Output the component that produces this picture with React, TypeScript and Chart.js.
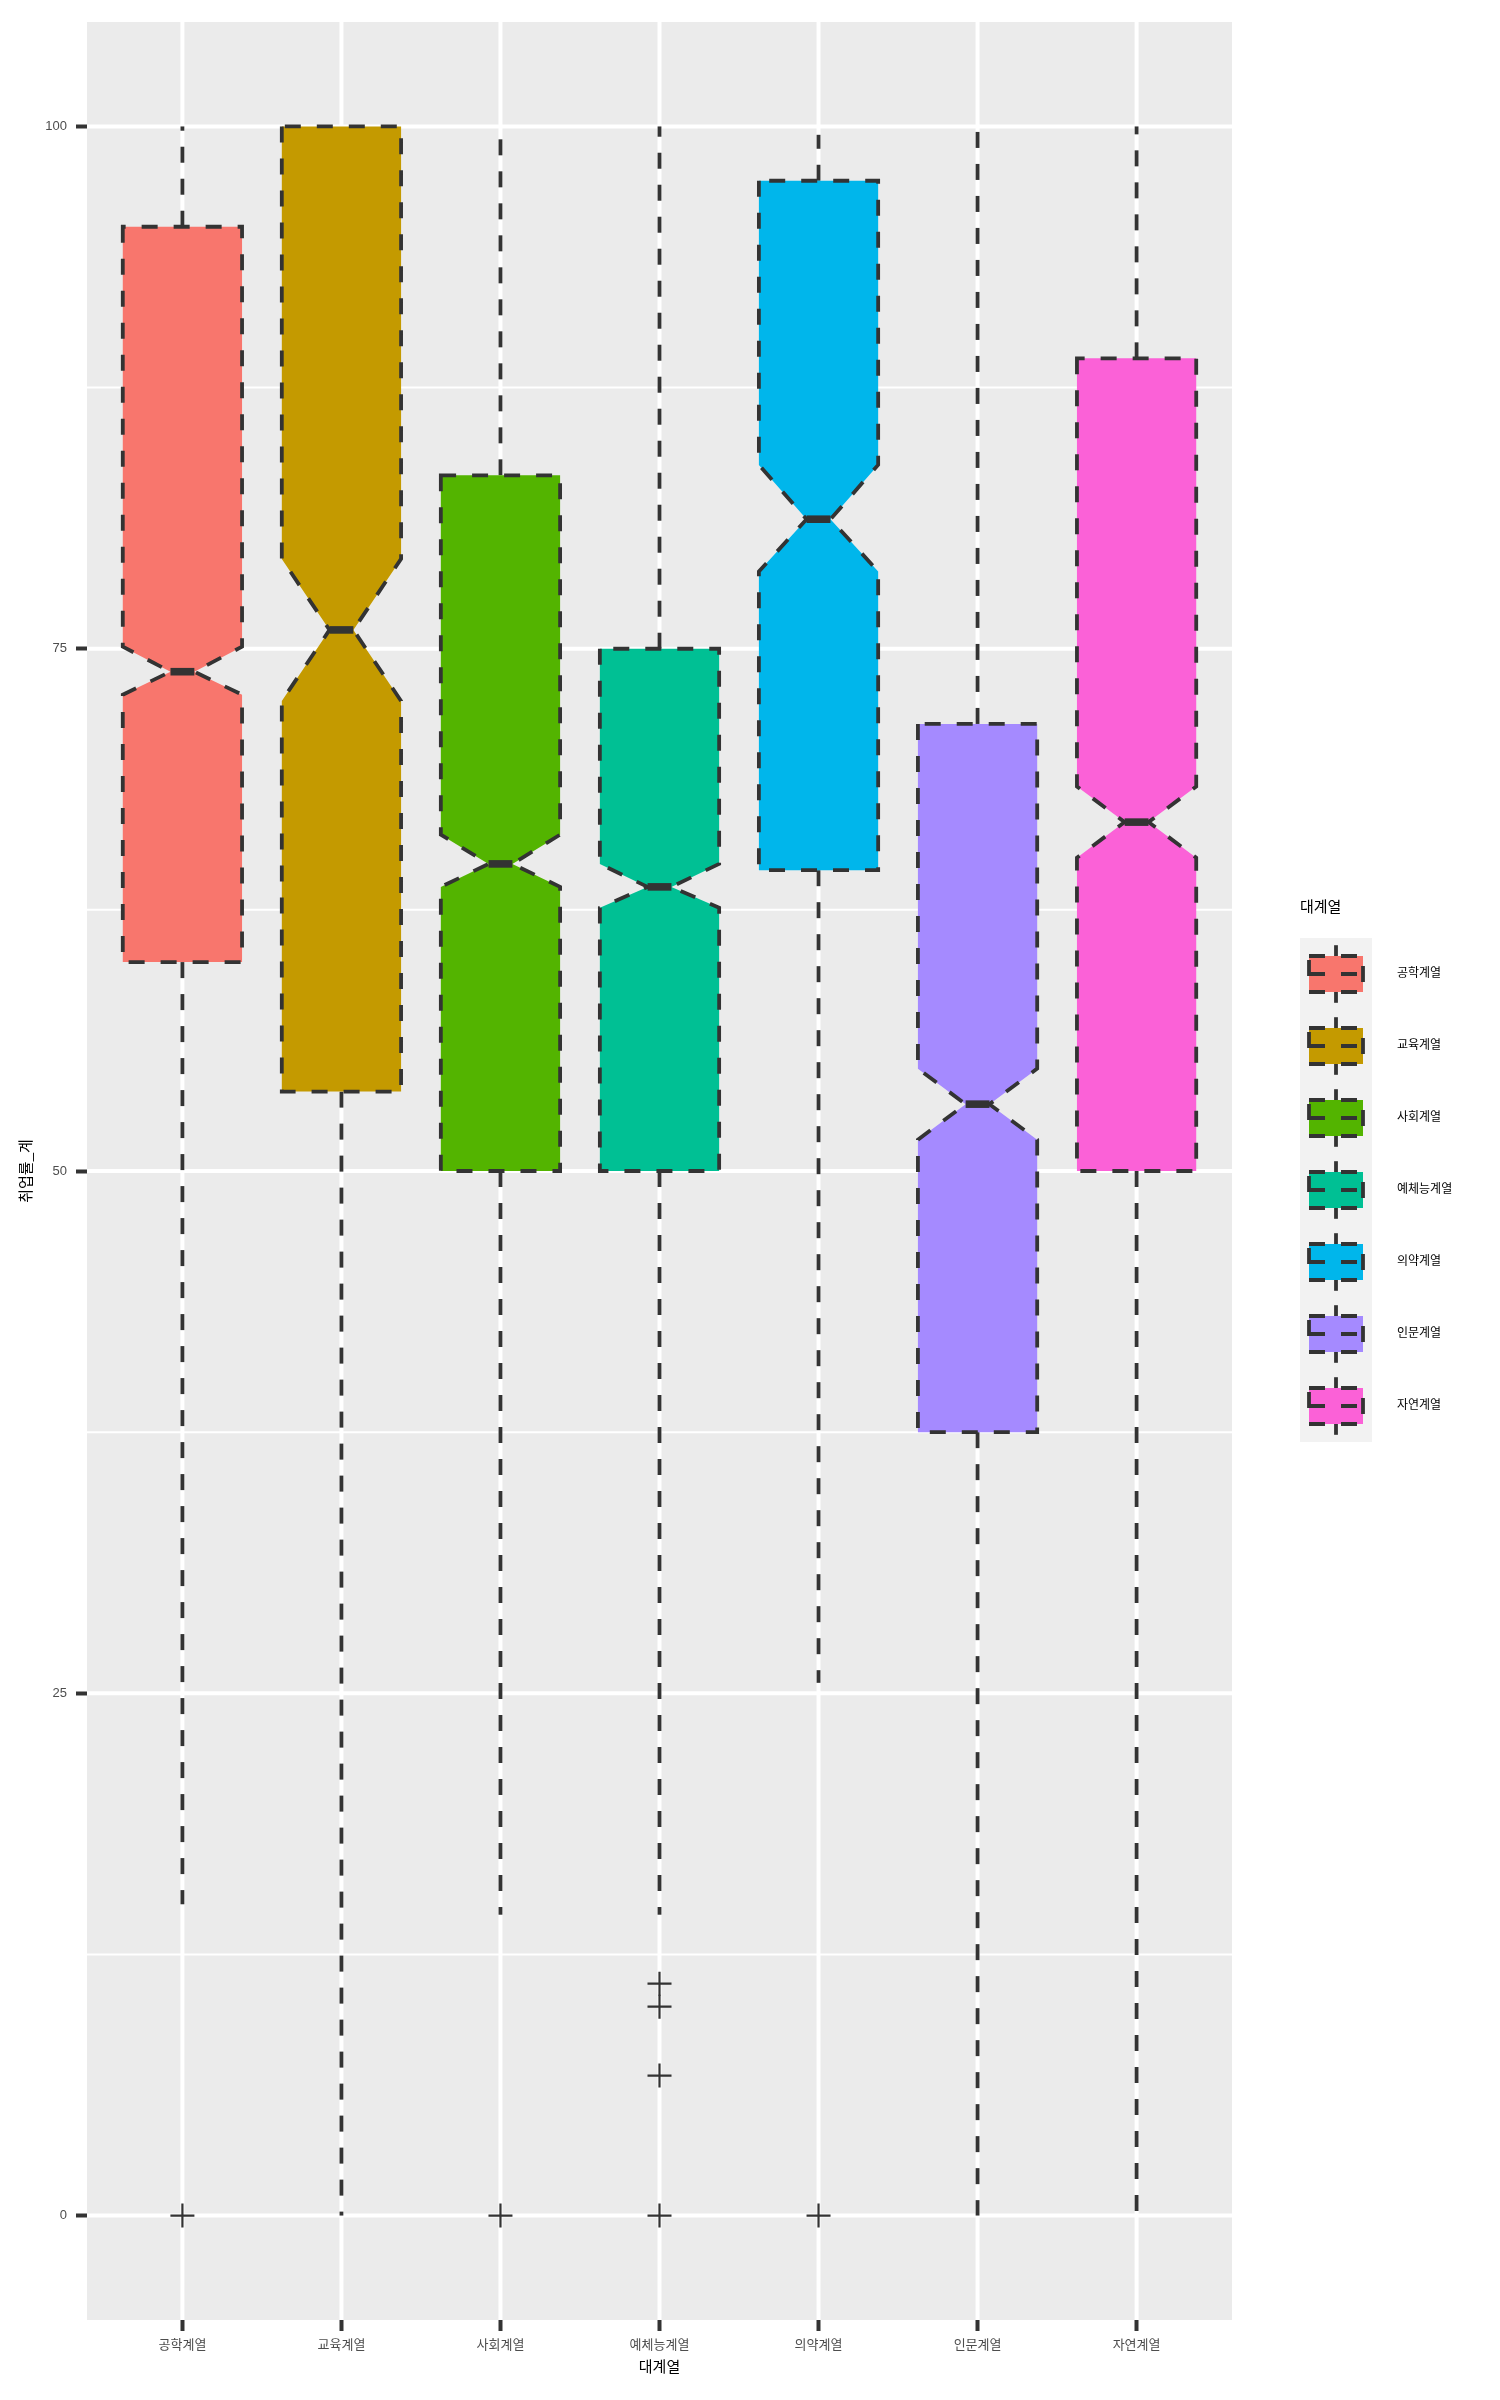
import React, { useEffect, useRef } from 'react';
import { Chart, registerables } from 'chart.js';

Chart.register(...registerables);

// ---------- data ----------
const categories = ['공학계열', '교육계열', '사회계열', '예체능계열', '의약계열', '인문계열', '자연계열'];
const whiskerLow = [14.9, 0, 14.4, 14.4, 25.5, 0, 0];
const q1 = [60.0, 53.8, 50.0, 50.0, 64.4, 37.5, 50.0];
const notchLow = [72.8, 72.5, 63.6, 62.6, 78.7, 51.5, 65.0];
const median = [73.9, 75.9, 64.7, 63.6, 81.2, 53.2, 66.7];
const notchHigh = [75.1, 79.3, 66.1, 64.7, 83.8, 54.9, 68.4];
const q3 = [95.2, 100, 83.3, 75.0, 97.4, 71.4, 88.9];
const whiskerHigh = [100, 100, 99.4, 100, 99.6, 100, 100];
const outlierGroup = ['공학계열', '사회계열', '예체능계열', '예체능계열', '예체능계열', '예체능계열', '의약계열'];
const outlierValue = [0, 0, 11.1, 10.0, 6.7, 0, 0];
const yMajorTicks = [0, 25, 50, 75, 100];
const yMinorBreaks = [12.5, 37.5, 62.5, 87.5];

const palette = ['#F8766D', '#C49A00', '#53B400', '#00C094', '#00B6EB', '#A58AFF', '#FB61D7'];

const FONT = "'Liberation Sans', 'Noto Sans CJK KR', sans-serif";
const LINE = '#333333';
const LW = 3.8;
const DASH = [16, 16];
const BOX_WIDTH = 0.75;
const NOTCH_WIDTH = 0.2;

export default function App() {
  const ref = useRef<HTMLCanvasElement>(null);

  useEffect(() => {
    const canvas = ref.current;
    if (!canvas) return;

    const seg = (ctx: CanvasRenderingContext2D, x1: number, y1: number, x2: number, y2: number) => {
      ctx.beginPath();
      ctx.moveTo(x1, y1);
      ctx.lineTo(x2, y2);
      ctx.stroke();
    };

    const ggPlugin = {
      id: 'ggbox',
      beforeDraw(chart: any) {
        const { ctx, chartArea: a, scales } = chart;
        const x = scales.x;
        const y = scales.y;
        ctx.save();
        ctx.fillStyle = '#EBEBEB';
        ctx.fillRect(a.left, a.top, a.right - a.left, a.bottom - a.top);
        ctx.strokeStyle = '#FFFFFF';
        ctx.lineWidth = 2;
        for (const v of yMinorBreaks) {
          const py = y.getPixelForValue(v);
          seg(ctx, a.left, py, a.right, py);
        }
        ctx.lineWidth = 4;
        for (const v of yMajorTicks) {
          const py = y.getPixelForValue(v);
          seg(ctx, a.left, py, a.right, py);
        }
        categories.forEach((_, i) => {
          const px = x.getPixelForValue(i + 1);
          seg(ctx, px, a.top, px, a.bottom);
        });
        ctx.restore();
      },
      beforeDatasetsDraw(chart: any) {
        const { ctx, scales } = chart;
        const x = scales.x;
        const y = scales.y;
        ctx.save();
        ctx.strokeStyle = LINE;
        ctx.lineCap = 'butt';
        ctx.lineJoin = 'miter';
        categories.forEach((_, i) => {
          const cx = x.getPixelForValue(i + 1);
          const xmin = x.getPixelForValue(i + 1 - BOX_WIDTH / 2);
          const xmax = x.getPixelForValue(i + 1 + BOX_WIDTH / 2);
          const indent = ((1 - NOTCH_WIDTH) * (xmax - xmin)) / 2;
          const yQ1 = y.getPixelForValue(q1[i]);
          const yQ3 = y.getPixelForValue(q3[i]);
          const yMed = y.getPixelForValue(median[i]);
          const yNL = y.getPixelForValue(notchLow[i]);
          const yNH = y.getPixelForValue(notchHigh[i]);
          const yWL = y.getPixelForValue(whiskerLow[i]);
          const yWH = y.getPixelForValue(whiskerHigh[i]);

          // whiskers
          ctx.lineWidth = LW;
          ctx.setLineDash(DASH);
          if (whiskerHigh[i] > q3[i]) seg(ctx, cx, yQ3, cx, yWH);
          if (whiskerLow[i] < q1[i]) seg(ctx, cx, yQ1, cx, yWL);

          // notched box
          const pts: [number, number][] = [
            [xmin, yQ3],
            [xmin, yNH],
            [xmin + indent, yMed],
            [xmin, yNL],
            [xmin, yQ1],
            [xmax, yQ1],
            [xmax, yNL],
            [xmax - indent, yMed],
            [xmax, yNH],
            [xmax, yQ3],
            [xmin, yQ3],
          ];
          ctx.beginPath();
          pts.forEach(([px, py], k) => (k === 0 ? ctx.moveTo(px, py) : ctx.lineTo(px, py)));
          ctx.closePath();
          ctx.fillStyle = palette[i];
          ctx.fill();
          ctx.stroke();

          // median
          ctx.setLineDash([]);
          ctx.lineWidth = LW * 2;
          seg(ctx, xmin + indent, yMed, xmax - indent, yMed);
        });
        ctx.restore();
      },
      afterDraw(chart: any) {
        const { ctx } = chart;
        ctx.save();
        // legend title
        ctx.fillStyle = '#000000';
        ctx.textBaseline = 'middle';
        ctx.textAlign = 'left';
        ctx.font = `15px ${FONT}`;
        ctx.fillText('대계열', 1300, 908);
        const keyLeft = 1300;
        const keyTop = 938;
        const key = 72;
        categories.forEach((name, i) => {
          const top = keyTop + key * i;
          ctx.fillStyle = '#F2F2F2';
          ctx.fillRect(keyLeft, top, key, key);
          const cx = keyLeft + key / 2;
          const cy = top + key / 2;
          ctx.strokeStyle = LINE;
          ctx.lineWidth = LW;
          ctx.lineCap = 'butt';
          ctx.setLineDash(DASH);
          // whisker pieces (from bottom up, as in ggplot key)
          seg(ctx, cx, top + key * 0.9, cx, top + key * 0.75);
          seg(ctx, cx, top + key * 0.25, cx, top + key * 0.1);
          // box
          const bw = key * 0.75;
          const bh = key * 0.5;
          ctx.fillStyle = palette[i];
          ctx.fillRect(cx - bw / 2, cy - bh / 2, bw, bh);
          ctx.beginPath();
          ctx.rect(cx - bw / 2, cy - bh / 2, bw, bh);
          ctx.stroke();
          // median
          seg(ctx, keyLeft + key * 0.125, cy, keyLeft + key * 0.875, cy);
          ctx.setLineDash([]);
          // label
          ctx.fillStyle = '#000000';
          ctx.font = `12px ${FONT}`;
          ctx.fillText(name, 1397, cy);
        });
        ctx.restore();
      },
    };

    const outlierData = outlierValue.map((v, k) => ({
      x: categories.indexOf(outlierGroup[k]) + 1,
      y: v,
    }));

    const chart = new Chart(canvas, {
      type: 'scatter',
      data: {
        datasets: [
          {
            label: 'outliers',
            data: outlierData,
            pointStyle: 'cross',
            pointRadius: 12,
            pointBorderWidth: 2.2,
            pointBorderColor: LINE,
            pointBackgroundColor: 'rgba(0,0,0,0)',
            borderColor: LINE,
            borderWidth: 2.2,
            showLine: false,
          },
        ],
      },
      options: {
        responsive: false,
        maintainAspectRatio: false,
        animation: false,
        events: [],
        layout: { padding: { top: 22, right: 268, left: 0, bottom: 0 } },
        plugins: {
          legend: { display: false },
          tooltip: { enabled: false },
        },
        scales: {
          x: {
            type: 'linear',
            min: 0.4,
            max: 7.6,
            afterBuildTicks: (s: any) => {
              s.ticks = categories.map((_, i) => ({ value: i + 1 }));
            },
            afterFit: (s: any) => {
              s.height = 80;
            },
            ticks: {
              autoSkip: false,
              maxRotation: 0,
              minRotation: 0,
              padding: 7,
              color: '#4D4D4D',
              font: { size: 13, family: FONT },
              callback: (v: any) => categories[Math.round(Number(v)) - 1] ?? '',
            },
            grid: {
              drawOnChartArea: false,
              drawTicks: true,
              tickLength: 11,
              tickColor: LINE,
              tickWidth: 4,
            },
            border: { display: false },
            title: {
              display: true,
              text: '대계열',
              color: '#000000',
              font: { size: 15, family: FONT },
              padding: { top: 0, bottom: 23 },
            },
          },
          y: {
            type: 'linear',
            min: -5,
            max: 105,
            afterBuildTicks: (s: any) => {
              s.ticks = yMajorTicks.map((v) => ({ value: v }));
            },
            afterFit: (s: any) => {
              s.width = 87;
            },
            ticks: {
              padding: 9,
              color: '#4D4D4D',
              font: { size: 13, family: FONT },
              callback: (v: any) => String(v),
            },
            grid: {
              drawOnChartArea: false,
              drawTicks: true,
              tickLength: 11,
              tickColor: LINE,
              tickWidth: 4,
            },
            border: { display: false },
            title: {
              display: true,
              text: '취업률_계',
              color: '#000000',
              font: { size: 15, family: FONT },
              padding: { top: 18, bottom: 0 },
            },
          },
        },
      },
      plugins: [ggPlugin],
    } as any);

    return () => chart.destroy();
  }, []);

  return (
    <div style={{ position: 'absolute', left: 0, top: 0, width: 1500, height: 2400 }}>
      <canvas ref={ref} width={1500} height={2400} style={{ display: 'block', width: 1500, height: 2400 }} />
    </div>
  );
}
